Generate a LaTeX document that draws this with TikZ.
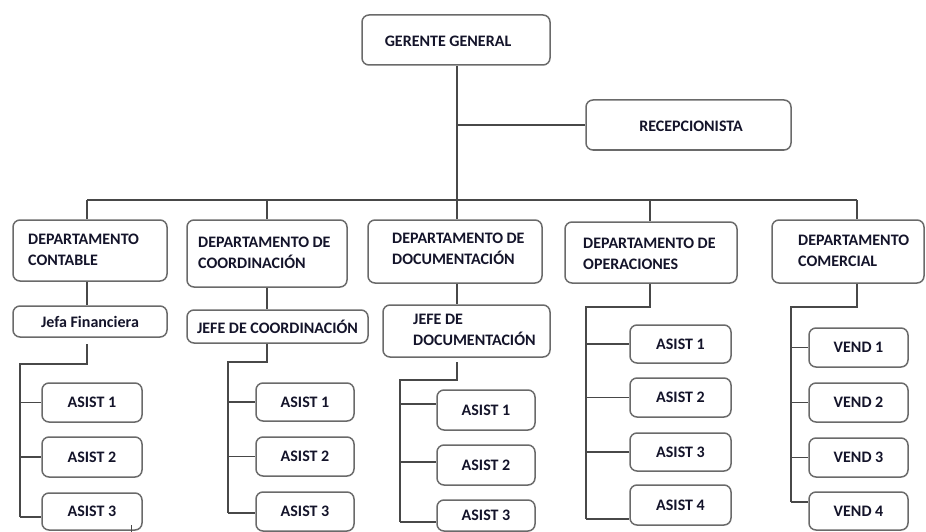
\documentclass[tikz,border=0pt]{standalone}
\usepackage{fontspec}
\setmainfont{Carlito}
\definecolor{boxgray}{HTML}{6A6A6A}
\definecolor{linegray}{HTML}{484848}
\definecolor{txtcol}{HTML}{14142A}
\tikzset{
  box/.style={draw=boxgray, line width=1.5pt, rounded corners=7pt, fill=white, inner sep=0pt},
  lbl/.style={font=\bfseries\fontsize{16}{21}\selectfont, text=txtcol, align=left, inner sep=0pt},
  conn/.style={draw=linegray, line width=1.3pt},
}
\begin{document}
\begin{tikzpicture}[x=1pt,y=-1pt]
\useasboundingbox (0,0) rectangle (926,532);

% top
\node[box, minimum width=188pt, minimum height=50pt] (g) at (456,40) {};
\node[lbl] (gt) at (448,41) {GERENTE GENERAL};
\node[box, minimum width=205pt, minimum height=50pt] (r) at (688.5,125) {};
\node[lbl] (rt) at (691,126) {RECEPCIONISTA};

% departments
\node[box, minimum width=154pt, minimum height=61pt] (d1) at (90,250.5) {};
\node[lbl, anchor=west] (d1t) at (28,250) {DEPARTAMENTO\\CONTABLE};
\node[box, minimum width=160pt, minimum height=67pt] (d2) at (267,253.5) {};
\node[lbl, anchor=west] (d2t) at (198,253) {DEPARTAMENTO DE\\COORDINACIÓN};
\node[box, minimum width=174pt, minimum height=63pt] (d3) at (455,251.5) {};
\node[lbl, anchor=west] (d3t) at (392,249) {DEPARTAMENTO DE\\DOCUMENTACIÓN};
\node[box, minimum width=172pt, minimum height=61pt] (d4) at (651,252.5) {};
\node[lbl, anchor=west] (d4t) at (583,254) {DEPARTAMENTO DE\\OPERACIONES};
\node[box, minimum width=152pt, minimum height=63pt] (d5) at (848,251.5) {};
\node[lbl, anchor=west] (d5t) at (798,251) {DEPARTAMENTO\\COMERCIAL};

% chiefs
\node[box, lbl, minimum width=154pt, minimum height=31pt] (j1) at (90,321.5) {Jefa Financiera};
\node[box, lbl, minimum width=181pt, minimum height=33pt] (j2) at (277.5,326.5) {JEFE DE COORDINACIÓN};
\node[box, minimum width=167pt, minimum height=52pt] (j3) at (466.5,331) {};
\node[lbl, anchor=west] (j3t) at (413,330) {JEFE DE\\DOCUMENTACIÓN};

% group 1
\node[box, lbl, minimum width=100pt, minimum height=39pt] (a11) at (92,402.5) {ASIST 1};
\node[box, lbl, minimum width=100pt, minimum height=40pt] (a12) at (92,457) {ASIST 2};
\node[box, lbl, minimum width=100pt, minimum height=37pt] (a13) at (92,511.5) {ASIST 3};
% group 2
\node[box, lbl, minimum width=98pt, minimum height=38pt] (a21) at (305,402) {ASIST 1};
\node[box, lbl, minimum width=98pt, minimum height=39pt] (a22) at (305,456.5) {ASIST 2};
\node[box, lbl, minimum width=98pt, minimum height=39pt] (a23) at (305,511.5) {ASIST 3};
% group 3
\node[box, lbl, minimum width=98pt, minimum height=40pt] (a31) at (486,410) {ASIST 1};
\node[box, lbl, minimum width=98pt, minimum height=40pt] (a32) at (486,465) {ASIST 2};
\node[box, lbl, minimum width=98pt, minimum height=31pt] (a33) at (486,515.5) {ASIST 3};
% group 4
\node[box, lbl, minimum width=101pt, minimum height=38pt] (a41) at (680.5,344) {ASIST 1};
\node[box, lbl, minimum width=101pt, minimum height=39pt] (a42) at (680.5,397.5) {ASIST 2};
\node[box, lbl, minimum width=101pt, minimum height=38pt] (a43) at (680.5,452) {ASIST 3};
\node[box, lbl, minimum width=101pt, minimum height=40pt] (a44) at (680.5,505) {ASIST 4};
% group 5
\node[box, lbl, minimum width=99pt, minimum height=39pt] (v1) at (858.5,347.5) {VEND 1};
\node[box, lbl, minimum width=99pt, minimum height=39pt] (v2) at (858.5,402.5) {VEND 2};
\node[box, lbl, minimum width=99pt, minimum height=39pt] (v3) at (858.5,457.5) {VEND 3};
\node[box, lbl, minimum width=99pt, minimum height=38pt] (v4) at (858.5,511) {VEND 4};

% coordinates
\coordinate (b1) at (87,200);
\coordinate (b2) at (267,200);
\coordinate (b3) at (457,200);
\coordinate (b4) at (650,200);
\coordinate (b5) at (857,200);
\coordinate (rj) at (457,125);

% top connectors
\draw[conn] (b3 |- g.south) -- (b3);
\draw[conn] (rj) -- (r.west);
\draw[conn] (b1) -- (b5);
\draw[conn] (b1) -- (b1 |- d1.north);
\draw[conn] (b2) -- (b2 |- d2.north);
\draw[conn] (b3) -- (b3 |- d3.north);
\draw[conn] (b4) -- (b4 |- d4.north);
\draw[conn] (b5) -- (b5 |- d5.north);

% dept to chief
\draw[conn] (b1 |- d1.south) -- (b1 |- j1.north);
\draw[conn] (b2 |- d2.south) -- (b2 |- j2.north);
\draw[conn] (b3 |- d3.south) -- (b3 |- j3.north);

% group 1
\coordinate (s1) at (87,344);
\coordinate (t1) at (20,364);
\coordinate (e1) at (20,517);
\draw[conn] (s1) |- (t1) -- (e1);
\draw[conn] (t1 |- a11.west) -- (a11.west);
\draw[conn] (t1 |- a12.west) -- (a12.west);
\draw[conn] (e1) -- (e1 -| a13.west);
\coordinate (k1) at (131,525);
\coordinate (k2) at (131,532);
\draw[conn, line width=1pt] (k1) -- (k2);

% group 2
\coordinate (t2) at (228,362);
\coordinate (e2) at (228,513);
\draw[conn] (b2 |- j2.south) |- (t2) -- (e2);
\draw[conn] (t2 |- a21.west) -- (a21.west);
\draw[conn] (t2 |- a22.west) -- (a22.west);
\draw[conn] (e2) -- (e2 -| a23.west);

% group 3
\coordinate (s3) at (457,362);
\coordinate (t3) at (400,380);
\coordinate (e3) at (400,522);
\coordinate (f31) at (400,404);
\coordinate (f32) at (400,462);
\draw[conn] (s3) |- (t3) -- (e3);
\draw[conn] (f31) -- (f31 -| a31.west);
\draw[conn] (f32) -- (f32 -| a32.west);
\draw[conn] (e3) -- (e3 -| a33.west);

% group 4
\coordinate (t4) at (586,307);
\coordinate (e4) at (586,519);
\draw[conn] (b4 |- d4.south) |- (t4) -- (e4);
\draw[conn] (t4 |- a41.west) -- (a41.west);
\draw[conn] (t4 |- a42.west) -- (a42.west);
\draw[conn] (t4 |- a43.west) -- (a43.west);
\draw[conn] (e4) -- (e4 -| a44.west);

% group 5
\coordinate (t5) at (791,307);
\coordinate (e5) at (791,502);
\draw[conn] (b5 |- d5.south) |- (t5) -- (e5);
\draw[conn] (t5 |- v1.west) -- (v1.west);
\draw[conn] (t5 |- v2.west) -- (v2.west);
\draw[conn] (t5 |- v3.west) -- (v3.west);
\draw[conn] (e5) -- (e5 -| v4.west);
\end{tikzpicture}
\end{document}
